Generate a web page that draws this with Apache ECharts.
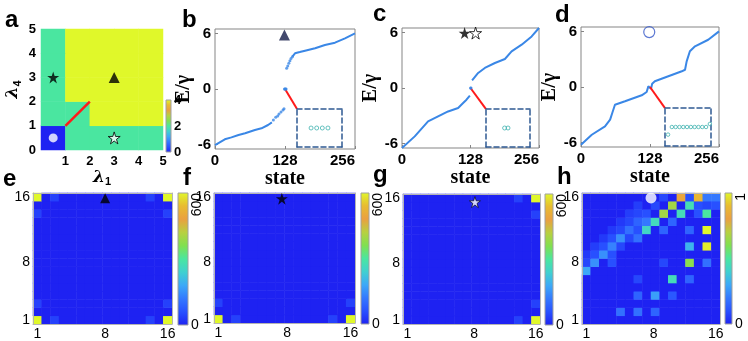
<!DOCTYPE html>
<html>
<head>
<meta charset="utf-8">
<script src="https://cdn.jsdelivr.net/npm/echarts@6/dist/echarts.min.js"></script>
<style>
  html, body { margin: 0; padding: 0; background: #fff; }
  #chart { width: 748px; height: 341px; }
</style>
</head>
<body>
<div id="chart"></div>
<script>
// colormap, bottom of the colorbar first
const cmap = ['#1e22f2', '#2850ff', '#3478ff', '#3ca8f8', '#40d0d0', '#4ae6a0', '#80e050', '#b8d040', '#eaa040', '#e8bc30', '#e0f82a']

// ---- panel a: phase diagram, cells of 1x1 on (lambda1, lambda4), bottom row first
const aRows = [
  [0, 2, 2, 2, 2],
  [2, 2, 4, 4, 4],
  [2, 4, 4, 4, 4],
  [2, 4, 4, 4, 4],
  [2, 4, 4, 4, 4],
]
const aTickX = [1, 2, 3, 4, 5]
const aTickY = [0, 1, 2, 3, 4, 5]
const aCbarTicks = [0, 2, 4]
const aBlackStar = [[0.5, 3]]
const aTriangle = [[3, 3]]
const aWhiteStar = [[3, 0.5]]
const aCircle = [[0.5, 0.5]]
const aRedPath = [[1, 1], [2, 2]]

// ---- panels b-d: spectra E/gamma vs state index
const bLower = [[0, -6.07], [18, -5.45], [30, -5.24], [43, -4.98], [55, -4.8], [73, -4.44], [85, -4.26], [97, -3.9], [104, -3.62]]
const bLowerDots = [[106.7, -3.36], [111, -3.07], [114.6, -2.93], [117, -2.71], [120.7, -2.49], [124.3, -2.28], [126.2, -2.13]]
const bZero = [[127, 0], [128, 0], [129, 0], [130, 0]]
const bUpperDots = [[131, 2.24], [133, 2.49], [135, 2.8], [137, 3.07], [139, 3.3], [141.5, 3.5]]
const bUpper = [[141.5, 3.5], [146.3, 3.87], [155, 4.0], [164.6, 4.15], [183, 4.41], [201, 4.77], [219.4, 5.02], [237.7, 5.49], [256, 6.03]]
const bZoomLink = [[128, 0], [150, -2.17]]
const bMarker = [[127, 5.85]]

const cLower = [[0, -6.5], [23.8, -5.24], [48.7, -3.62], [67.4, -3.08], [86.1, -2.54], [104.9, -2.17], [114.2, -1.63], [120.5, -1.27], [126.8, -0.83]]
const cZero = [[128, 0], [129, 0]]
const cUpper = [[131, 0.82], [142.3, 1.63], [154.8, 2.17], [173.6, 2.71], [192.3, 3.14], [204.8, 3.97], [223.6, 4.69], [242.3, 5.59], [256, 6.5]]
const cZoomLink = [[128, 0], [157, -2.28]]
const cBlackStar = [[117, 5.95]]
const cWhiteStar = [[137.5, 5.95]]

const dLine = [[0, -6.25], [20, -5.17], [44.5, -4.26], [54, -3.54], [58, -2.82], [63, -1.92], [81.6, -1.55], [112.6, -0.9], [121.8, -0.54],
  [124.9, 0.07], [127, 0.05], [129.9, -0.2], [132, 0.35], [137, 0.62], [162, 1.16], [187, 1.7], [193, 1.87], [196, 2.78], [202, 3.87],
  [211.5, 4.41], [236, 5.12], [256, 6.03]]
const dZero = [[122, -0.4], [123, 0], [124, 0], [125, 0], [126, 0], [127, 0], [128, 0], [129, 0], [130, 0], [131, 0], [132, 0], [133, 0.16]]
const dZoomLink = [[128, 0], [155.8, -2.28]]
const dMarker = [[126.6, 5.95]]

// ---- panels e-h: 16x16 maps, [column, row, value], all other cells 0
const eCells = [[1, 1, 600], [16, 1, 600], [1, 16, 600], [16, 16, 600], [3, 1, 40], [14, 1, 40], [1, 3, 40], [16, 3, 40],
  [3, 16, 40], [14, 16, 40], [1, 14, 40], [16, 14, 40]]
const fCells = [[1, 1, 600], [16, 1, 600], [3, 1, 40], [14, 1, 40], [1, 3, 40], [16, 3, 40]]
const gCells = [[16, 16, 600], [16, 1, 600], [14, 16, 40], [16, 14, 40], [14, 1, 40], [16, 3, 40]]
const hCells = [
  [10, 16, 0.08], [12, 16, 0.82], [13, 16, 0.1], [14, 16, 0.88], [15, 16, 0.2], [16, 16, 0.2],
  [7, 15, 0.06], [9, 15, 0.08], [11, 15, 0.66], [13, 15, 0.46], [14, 15, 0.1], [15, 15, 0.08], [16, 15, 0.1],
  [6, 14, 0.06], [7, 14, 0.08], [8, 14, 0.1], [10, 14, 0.66], [12, 14, 0.45], [14, 14, 0.1], [15, 14, 0.5],
  [5, 13, 0.05], [6, 13, 0.08], [7, 13, 0.15], [8, 13, 0.2], [9, 13, 0.44], [11, 13, 0.15],
  [4, 12, 0.05], [5, 12, 0.08], [6, 12, 0.18], [7, 12, 0.1], [8, 12, 0.42], [10, 12, 0.15], [13, 12, 0.15], [15, 12, 1.0],
  [3, 11, 0.05], [4, 11, 0.1], [5, 11, 0.25], [6, 11, 0.08], [7, 11, 0.18],
  [2, 10, 0.06], [3, 10, 0.1], [4, 10, 0.22], [5, 10, 0.08], [13, 10, 0.33], [15, 10, 0.98],
  [1, 9, 0.05], [2, 9, 0.1], [3, 9, 0.25], [4, 9, 0.1],
  [1, 8, 0.08], [2, 8, 0.25], [4, 8, 0.1], [10, 8, 0.08], [13, 8, 0.62], [15, 8, 0.18],
  [1, 7, 0.3],
  [7, 6, 0.08], [11, 6, 0.45], [13, 6, 0.15],
  [7, 4, 0.15], [9, 4, 0.28], [11, 4, 0.12],
  [5, 2, 0.18], [7, 2, 0.18], [9, 2, 0.15],
]
const heatTickX = [1, 8.8, 16]
const heatTickY = [1, 8, 16]
const heatTickText = ['1', '8', '16']
const eMarker = [[8.8, 15.85]]
const fMarker = [[8.2, 15.8]]
const gMarker = [[8.9, 15.5]]
const hMarker = [[8.5, 15.9]]

// -------------------------------------------------------------------------
const starPath = 'path://M50,0L61.2,34.6L97.6,34.5L68.1,55.9L79.4,90.5L50,69L20.6,90.5L31.9,55.9L2.4,34.5L38.8,34.6Z'
const SANS = 'Liberation Sans, Arial, sans-serif'
const SERIF = 'Liberation Serif, Times New Roman, serif'
const lineBlue = '#3a87e6'
const red = '#ff1a1a'

const grids = [], xAxes = [], yAxes = [], series = [], visualMaps = []
const addGrid = g => { grids.push(g); return grids.length - 1 }
const addX = a => { xAxes.push(a); return xAxes.length - 1 }
const addY = a => { yAxes.push(a); return yAxes.length - 1 }
const off = { show: false }

const cbarGradient = {
  type: 'linear', x: 0, y: 1, x2: 0, y2: 0,
  colorStops: cmap.map((c, i) => ({ offset: i / (cmap.length - 1), color: c })),
}

function colorbar(rect, max, upright, rotated, bold) {
  const gi = addGrid({ ...rect, show: true, backgroundColor: cbarGradient, borderColor: '#a0a0a0', borderWidth: 1 })
  addX({ type: 'value', gridIndex: gi, show: false, min: 0, max: 1 })
  const lbl = { color: '#000', fontFamily: SANS, fontSize: bold ? 13 : 14, fontWeight: bold ? 'bold' : 'normal', margin: 3 }
  addY({
    type: 'value', gridIndex: gi, position: 'right', min: 0, max,
    axisLine: off, axisTick: off, splitLine: off,
    axisLabel: { ...lbl, customValues: upright },
  })
  if (rotated) {
    addY({
      type: 'value', gridIndex: gi, position: 'right', min: 0, max,
      axisLine: off, axisTick: off, splitLine: off,
      axisLabel: { ...lbl, customValues: rotated, rotate: 90, align: 'right', margin: 2 },
    })
  }
}

function addVisual(seriesIndex, max) {
  visualMaps.push({ type: 'continuous', show: false, seriesIndex, dimension: 2, min: 0, max, inRange: { color: cmap } })
}

function fullGrid(rows, cols, cells) {
  const m = []
  for (let y = 0; y < rows; y++) for (let x = 0; x < cols; x++) m.push([x, y, 0])
  cells.forEach(([x, y, v]) => { m[(y - 1) * cols + (x - 1)][2] = v })
  return m
}

function scatter(xi, yi, data, symbol, size, style) {
  series.push({ type: 'scatter', xAxisIndex: xi, yAxisIndex: yi, data, symbol, symbolSize: size, itemStyle: style, z: 6, silent: true })
}

// ---- panel a
{
  const gi = addGrid({ left: 41, top: 29, width: 122, height: 121, show: false })
  const cats = ['0', '1', '2', '3', '4']
  const cx = addX({ type: 'category', gridIndex: gi, position: 'top', data: cats, show: false })
  const cy = addY({ type: 'category', gridIndex: gi, position: 'right', data: cats, show: false })
  const tickLbl = { color: '#000', fontFamily: SANS, fontWeight: 'bold', fontSize: 13 }
  const lamRich = {
    l: { fontFamily: 'DejaVu Serif', fontStyle: 'italic', fontWeight: 'bold', fontSize: 17, color: '#000' },
    s: { fontFamily: SANS, fontWeight: 'bold', fontSize: 11, color: '#000', padding: [9, 0, 0, 0] },
  }
  const vx = addX({
    type: 'value', gridIndex: gi, position: 'bottom', min: 0, max: 5,
    axisLine: off, axisTick: off, splitLine: off,
    axisLabel: { ...tickLbl, customValues: aTickX, margin: 5 },
    name: '{l|λ}{s|1}', nameLocation: 'middle', nameGap: 12, nameTextStyle: { rich: lamRich },
  })
  const vy = addY({
    type: 'value', gridIndex: gi, position: 'left', min: 0, max: 5,
    axisLine: off, axisTick: off, splitLine: off,
    axisLabel: { ...tickLbl, customValues: aTickY, margin: 5 },
    name: '{l|λ}{s|4}', nameLocation: 'middle', nameRotate: 90, nameGap: 18, nameTextStyle: { rich: lamRich },
  })
  const heat = []
  aRows.forEach((row, y) => row.forEach((v, x) => heat.push([x, y, v])))
  series.push({ type: 'heatmap', xAxisIndex: cx, yAxisIndex: cy, data: heat, silent: true })
  addVisual(series.length - 1, 4)
  series.push({ type: 'line', xAxisIndex: vx, yAxisIndex: vy, data: aRedPath, symbol: 'none', lineStyle: { color: red, width: 2.5 }, z: 5 })
  scatter(vx, vy, aBlackStar, starPath, 12, { color: '#000' })
  scatter(vx, vy, aTriangle, 'triangle', 11, { color: '#000' })
  scatter(vx, vy, aWhiteStar, starPath, 12, { color: '#fff', borderColor: '#000', borderWidth: 1 })
  scatter(vx, vy, aCircle, 'circle', 9, { color: '#fff' })
  colorbar({ left: 166, top: 100, width: 5, height: 52 }, 4, aCbarTicks, null, true)
}

// ---- panels b-d
function spectrumPanel(rect) {
  const gi = addGrid({ ...rect, show: true, borderColor: '#858585', borderWidth: 1 })
  const tickLbl = { color: '#000', fontFamily: SANS, fontWeight: 'bold', fontSize: 15 }
  const nameStyle = { color: '#000', fontFamily: SERIF, fontWeight: 'bold', fontSize: 20 }
  const xi = addX({
    type: 'value', gridIndex: gi, position: 'bottom', min: 0, max: 256, interval: 128,
    axisLine: { show: false, onZero: false },
    axisTick: { show: true, inside: true, length: 3, lineStyle: { color: '#858585' } },
    splitLine: off,
    axisLabel: { ...tickLbl, margin: 4, alignMaxLabel: 'right' },
    name: 'state', nameLocation: 'middle', nameGap: 17, nameTextStyle: nameStyle,
  })
  const yi = addY({
    type: 'value', gridIndex: gi, position: 'left', min: -6.5, max: 6.5,
    axisLine: { show: false, onZero: false },
    axisTick: { show: true, inside: true, length: 3, customValues: [-6, 0, 6], lineStyle: { color: '#858585' } },
    splitLine: off,
    axisLabel: { ...tickLbl, margin: 4, customValues: [-6, 0, 6] },
    name: 'E/γ', nameLocation: 'middle', nameRotate: 90, nameGap: 12, nameTextStyle: nameStyle,
  })
  return [xi, yi]
}

function insetPanel(rect, xmin, xmax) {
  const gi = addGrid({ ...rect, show: false })
  const dash = { show: true, onZero: false, lineStyle: { color: '#2f5a93', width: 1.5, type: [5, 3] } }
  const base = { type: 'value', gridIndex: gi, axisLine: dash, axisTick: off, axisLabel: off, splitLine: off, z: 4 }
  const xi = addX({ ...base, position: 'bottom', min: xmin, max: xmax })
  addX({ ...base, position: 'top', min: xmin, max: xmax })
  const yi = addY({ ...base, position: 'left', min: -1, max: 1 })
  addY({ ...base, position: 'right', min: -1, max: 1 })
  return [xi, yi]
}

function line(xi, yi, data, color, width) {
  series.push({ type: 'line', xAxisIndex: xi, yAxisIndex: yi, data, symbol: 'none', lineStyle: { color, width }, z: 3, silent: true })
}
const zeroMode = { color: 'transparent', borderColor: '#41b3b0', borderWidth: 1 }

{
  const [xi, yi] = spectrumPanel({ left: 215, top: 29, width: 140, height: 120 })
  line(xi, yi, bLower, lineBlue, 2)
  scatter(xi, yi, bLowerDots, 'circle', 3, { color: lineBlue })
  scatter(xi, yi, bZero, 'circle', 3, { color: lineBlue })
  scatter(xi, yi, bUpperDots, 'circle', 3, { color: lineBlue })
  line(xi, yi, bUpper, lineBlue, 2)
  line(xi, yi, bZoomLink, red, 2)
  scatter(xi, yi, bMarker, 'triangle', 11, { color: '#141c4a' })
  const [ix, iy] = insetPanel({ left: 297, top: 109, width: 45, height: 38 }, 124.5, 132.5)
  scatter(ix, iy, bZero, 'circle', 4, zeroMode)
}
{
  const [xi, yi] = spectrumPanel({ left: 402, top: 28, width: 137, height: 120 })
  line(xi, yi, cLower, lineBlue, 2)
  scatter(xi, yi, cZero, 'circle', 3, { color: lineBlue })
  line(xi, yi, cUpper, lineBlue, 2)
  line(xi, yi, cZoomLink, red, 2)
  scatter(xi, yi, cBlackStar, starPath, 12, { color: '#000' })
  scatter(xi, yi, cWhiteStar, starPath, 12, { color: '#fff', borderColor: '#000', borderWidth: 1 })
  const [ix, iy] = insetPanel({ left: 486, top: 109, width: 44, height: 38 }, 122.5, 135.5)
  scatter(ix, iy, cZero, 'circle', 4, zeroMode)
}
{
  const [xi, yi] = spectrumPanel({ left: 581, top: 27, width: 138, height: 120 })
  line(xi, yi, dLine, lineBlue, 2)
  line(xi, yi, dZoomLink, red, 2)
  scatter(xi, yi, dMarker, 'circle', 11, { color: 'transparent', borderColor: '#3558c8', borderWidth: 1.2 })
  const [ix, iy] = insetPanel({ left: 665, top: 108, width: 46, height: 38 }, 121.2, 133.3)
  scatter(ix, iy, dZero, 'circle', 3.5, zeroMode)
}

// ---- panels e-h
const heatCats = Array.from({ length: 16 }, (_, i) => String(i + 1))
function heatPanel(rect, cells, max, marker, symbol, size, style) {
  const gi = addGrid({ ...rect, show: false })
  const frame = { show: true, onZero: false, lineStyle: { color: '#b4b4b4', width: 1 } }
  const cx = addX({ type: 'category', gridIndex: gi, position: 'top', data: heatCats, axisLine: frame, axisTick: off, axisLabel: off, splitLine: off, z: 4 })
  const cy = addY({ type: 'category', gridIndex: gi, position: 'right', data: heatCats, axisLine: frame, axisTick: off, axisLabel: off, splitLine: off, z: 4 })
  const lbl = { color: '#000', fontFamily: SANS, fontSize: 14, margin: 3 }
  const vx = addX({
    type: 'value', gridIndex: gi, position: 'bottom', min: 0.5, max: 16.5, axisLine: frame, axisTick: off, splitLine: off, z: 4,
    axisLabel: { ...lbl, customValues: heatTickX, formatter: v => heatTickText[heatTickX.indexOf(v)] },
  })
  const vy = addY({
    type: 'value', gridIndex: gi, position: 'left', min: 0.5, max: 16.5, axisLine: frame, axisTick: off, splitLine: off, z: 4,
    axisLabel: { ...lbl, customValues: heatTickY, formatter: v => heatTickText[heatTickY.indexOf(v)] },
  })
  series.push({ type: 'heatmap', xAxisIndex: cx, yAxisIndex: cy, data: fullGrid(16, 16, cells), silent: true })
  addVisual(series.length - 1, max)
  scatter(vx, vy, marker, symbol, size, style)
}

heatPanel({ left: 33, top: 193, width: 139, height: 131 }, eCells, 600, eMarker, 'triangle', 10, { color: '#000' })
colorbar({ left: 178, top: 193, width: 10, height: 132 }, 600, [0], [600])
heatPanel({ left: 214, top: 193, width: 141, height: 130 }, fCells, 600, fMarker, starPath, 12, { color: '#000' })
colorbar({ left: 361, top: 193, width: 8, height: 131 }, 600, [0], [600])
heatPanel({ left: 403, top: 194, width: 137, height: 131 }, gCells, 600, gMarker, starPath, 11, { color: '#fff', borderColor: '#000', borderWidth: 0.8 })
colorbar({ left: 545, top: 194, width: 8, height: 131 }, 600, [0], [600])
heatPanel({ left: 582, top: 193, width: 138, height: 131 }, hCells, 1, hMarker, 'circle', 11, { color: '#fff' })
colorbar({ left: 725, top: 193, width: 10, height: 131 }, 1, [0], [1])

// ---- panel letters
const letters = [['a', 5, 8], ['b', 182, 8], ['c', 373, 2], ['d', 555, 3], ['e', 3, 167], ['f', 183, 166], ['g', 373, 163], ['h', 557, 165]]

const option = {
  animation: false,
  title: letters.map(([text, left, top]) => ({
    text, left, top, padding: 0,
    textStyle: { fontFamily: SANS, fontWeight: 'bold', fontSize: 24, color: '#000' },
  })),
  grid: grids,
  xAxis: xAxes,
  yAxis: yAxes,
  visualMap: visualMaps,
  series,
}

const chart = echarts.init(document.getElementById('chart'), null, { renderer: 'canvas' })
chart.setOption(option)
window.addEventListener('resize', () => chart.resize())
</script>
</body>
</html>
